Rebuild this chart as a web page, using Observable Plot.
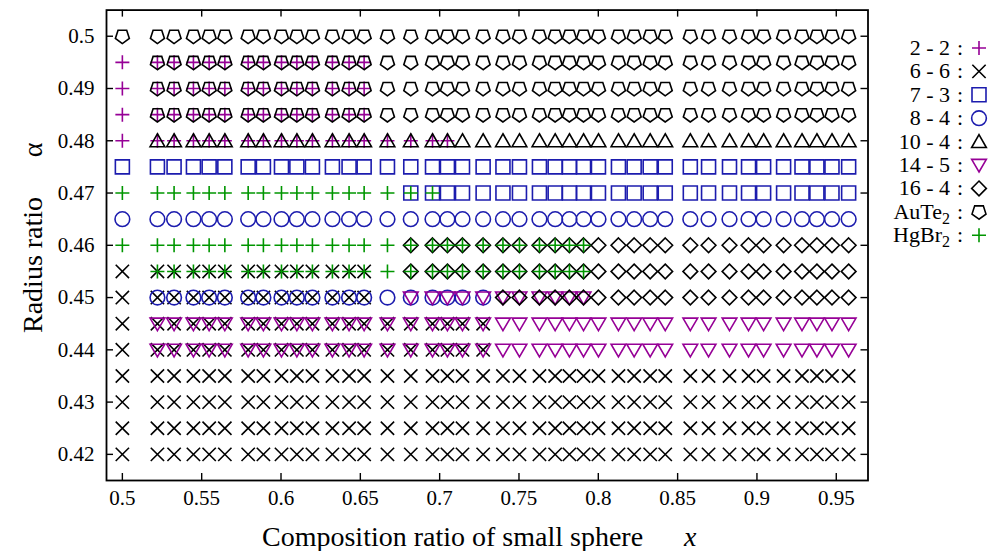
<!DOCTYPE html>
<html><head><meta charset="utf-8">
<script src="https://cdn.jsdelivr.net/npm/d3@7"></script>
<script src="https://cdn.jsdelivr.net/npm/@observablehq/plot@0.6"></script>
<style>
body{margin:0;background:#fff;}
#chart{position:relative;width:992px;height:551px;}
</style></head><body><div id="chart"></div>
<script>
// ---- data ----
const xCols = [0.5000, 0.5221, 0.5326, 0.5448, 0.5547, 0.5646, 0.5793, 0.5889, 0.6003, 0.6100,
  0.6198, 0.6324, 0.6429, 0.6524, 0.6671, 0.6818, 0.6955, 0.7049, 0.7144, 0.7274,
  0.7399, 0.7503, 0.7629, 0.7728, 0.7818, 0.7907, 0.8001, 0.8127, 0.8226, 0.8327,
  0.8422, 0.8580, 0.8695, 0.8827, 0.8947, 0.9042, 0.9168, 0.9284, 0.9378, 0.9473, 0.9578];
const xTicks = [0.5, 0.55, 0.6, 0.65, 0.7, 0.75, 0.8, 0.85, 0.9, 0.95];
const xTickLabels = ["0.5", "0.55", "0.6", "0.65", "0.7", "0.75", "0.8", "0.85", "0.9", "0.95"];
const yTicks = [0.42, 0.43, 0.44, 0.45, 0.46, 0.47, 0.48, 0.49, 0.5];
const yTickLabels = ["0.42", "0.43", "0.44", "0.45", "0.46", "0.47", "0.48", "0.49", "0.5"];
// rows: [alpha, first column index, last column index]
const rows22 = [[0.495, 0, 13], [0.49, 0, 13], [0.485, 0, 13], [0.48, 0, 17]];
const rows66 = [[0.455, 0, 13], [0.45, 0, 13], [0.445, 0, 19], [0.44, 0, 19], [0.435, 0, 40], [0.43, 0, 40], [0.425, 0, 40], [0.42, 0, 40]];
const rows73 = [[0.475, 0, 40], [0.47, 15, 40]];
const rows84 = [[0.465, 0, 40], [0.45, 1, 19]];
const rows104 = [[0.48, 1, 40]];
const rows145 = [[0.45, 15, 25], [0.445, 1, 40], [0.44, 1, 40]];
const rows164 = [[0.46, 15, 40], [0.455, 15, 40], [0.45, 20, 40]];
const rowsAuTe2 = [[0.5, 0, 40], [0.495, 1, 40], [0.49, 1, 40], [0.485, 1, 40]];
const rowsHgBr2 = [[0.47, 0, 16], [0.46, 0, 25], [0.455, 1, 25]];

const PURPLE = "#960096", BLUE = "#1c1cae", GREEN = "#009600", BLACK = "#000";

// ---- symbols ----
const R = s => Math.sqrt(s / Math.PI);
const symPlus = {draw(c, s) { const r = R(s); c.moveTo(-r, 0); c.lineTo(r, 0); c.moveTo(0, -r); c.lineTo(0, r); }};
const symTimes = {draw(c, s) { const r = R(s) * 0.95; c.moveTo(-r, -r); c.lineTo(r, r); c.moveTo(-r, r); c.lineTo(r, -r); }};
const symSquare = {draw(c, s) { const r = R(s); c.moveTo(-r, -r); c.lineTo(r, -r); c.lineTo(r, r); c.lineTo(-r, r); c.closePath(); }};
const symCircle = {draw(c, s) { const r = R(s) * 1.05; c.moveTo(r, 0); c.arc(0, 0, r, 0, 2 * Math.PI); c.closePath(); }};
const symTriUp = {draw(c, s) { const r = R(s); c.moveTo(0, -r * 1.0); c.lineTo(r * 1.05, r * 0.85); c.lineTo(-r * 1.05, r * 0.85); c.closePath(); }};
const symTriDown = {draw(c, s) { const r = R(s); c.moveTo(0, r * 1.0); c.lineTo(r * 1.05, -r * 0.8); c.lineTo(-r * 1.05, -r * 0.8); c.closePath(); }};
const symDiamond = {draw(c, s) { const r = R(s) * 1.05; c.moveTo(0, -r); c.lineTo(r, 0); c.lineTo(0, r); c.lineTo(-r, 0); c.closePath(); }};
const symPent = {draw(c, s) { const r = R(s) * 1.05; for (let k = 0; k < 5; k++) { const a = Math.PI / 2 + k * 2 * Math.PI / 5; const x = r * Math.cos(a), y = r * Math.sin(a); if (k === 0) c.moveTo(x, y); else c.lineTo(x, y); } c.closePath(); }};

const series = [
  {name: "2 - 2", rows: rows22, sym: symPlus, color: PURPLE},
  {name: "6 - 6", rows: rows66, sym: symTimes, color: BLACK},
  {name: "7 - 3", rows: rows73, sym: symSquare, color: BLUE},
  {name: "8 - 4", rows: rows84, sym: symCircle, color: BLUE},
  {name: "10 - 4", rows: rows104, sym: symTriUp, color: BLACK},
  {name: "14 - 5", rows: rows145, sym: symTriDown, color: PURPLE},
  {name: "16 - 4", rows: rows164, sym: symDiamond, color: BLACK},
  {name: "AuTe", sub: "2", rows: rowsAuTe2, sym: symPent, color: BLACK},
  {name: "HgBr", sub: "2", rows: rowsHgBr2, sym: symPlus, color: GREEN}
];
function expand(rows) {
  const out = [];
  for (const [a, i0, i1] of rows) for (let i = i0; i <= i1; i++) out.push({x: xCols[i], y: a});
  return out;
}

// ---- layout ----
const W = 992, H = 551;
const mL = 106, mR = 992 - 867.5, mT = 9.6, mB = 551 - 480;
const pw = W - mL - mR, ph = H - mT - mB, TL = 7, PR = 7;

const marks = [
  Plot.ruleX(xTicks, {insetTop: ph - TL, stroke: "black", strokeWidth: 1.4}),
  Plot.ruleX(xTicks, {insetBottom: ph - TL, stroke: "black", strokeWidth: 1.4}),
  Plot.ruleY(yTicks, {insetRight: pw - TL, stroke: "black", strokeWidth: 1.4}),
  Plot.ruleY(yTicks, {insetLeft: pw - TL, stroke: "black", strokeWidth: 1.4}),
  Plot.axisX({ticks: xTicks, tickSize: 0, tickPadding: 10, label: null,
    tickFormat: d => xTickLabels[xTicks.indexOf(d)], fontSize: 21}),
  Plot.axisY({ticks: yTicks, tickSize: 0, tickPadding: 12, label: null,
    tickFormat: d => yTickLabels[yTicks.indexOf(d)], fontSize: 21})
];
for (const s of series) {
  marks.push(Plot.dot(expand(s.rows), {x: "x", y: "y", symbol: s.sym, r: PR, stroke: s.color, strokeWidth: 1.6, fill: "none"}));
}
marks.push(Plot.frame({stroke: "black", strokeWidth: 1.8}));

const svg = Plot.plot({
  width: W, height: H,
  marginLeft: mL, marginRight: mR, marginTop: mT, marginBottom: mB,
  style: {fontFamily: "'Liberation Serif', 'Times New Roman', serif", fontSize: "21px", background: "white", color: "black"},
  x: {domain: [0.49, 0.97]},
  y: {domain: [0.415, 0.505]},
  marks
});
document.getElementById("chart").appendChild(svg);

// ---- axis titles & legend ----
const g = d3.select(svg).append("g")
  .attr("font-family", "'Liberation Serif', 'Times New Roman', serif")
  .attr("fill", "black").attr("text-anchor", "start");
const xt = g.append("text").attr("x", 262).attr("y", 546).attr("font-size", 28).attr("text-anchor", "start");
xt.append("tspan").text("Composition ratio of small sphere");
xt.append("tspan").attr("x", 684).attr("font-style", "italic").text("x");

g.append("text").attr("transform", "translate(42,333) rotate(-90)").attr("text-anchor", "start").attr("font-size", 28).text("Radius ratio");
g.append("text").attr("transform", "translate(42,150) rotate(-90)").attr("text-anchor", "middle").attr("font-size", 28).text("α");

const ly0 = 48, ldy = 23.4;
series.forEach((s, i) => {
  const cy = ly0 + i * ldy;
  const t = g.append("text").attr("x", 950).attr("y", cy + 7).attr("text-anchor", "end").attr("font-size", 22);
  t.append("tspan").text(s.name);
  if (s.sub) t.append("tspan").attr("dy", 5).attr("font-size", 16).text(s.sub);
  g.append("text").attr("x", 960).attr("y", cy + 7).attr("text-anchor", "middle").attr("font-size", 22).text(":");
  g.append("path").attr("transform", `translate(979,${cy})`)
    .attr("d", d3.symbol().type(s.sym).size(Math.PI * PR * PR)())
    .attr("fill", "none").attr("stroke", s.color).attr("stroke-width", 1.6);
});
</script></body></html>
